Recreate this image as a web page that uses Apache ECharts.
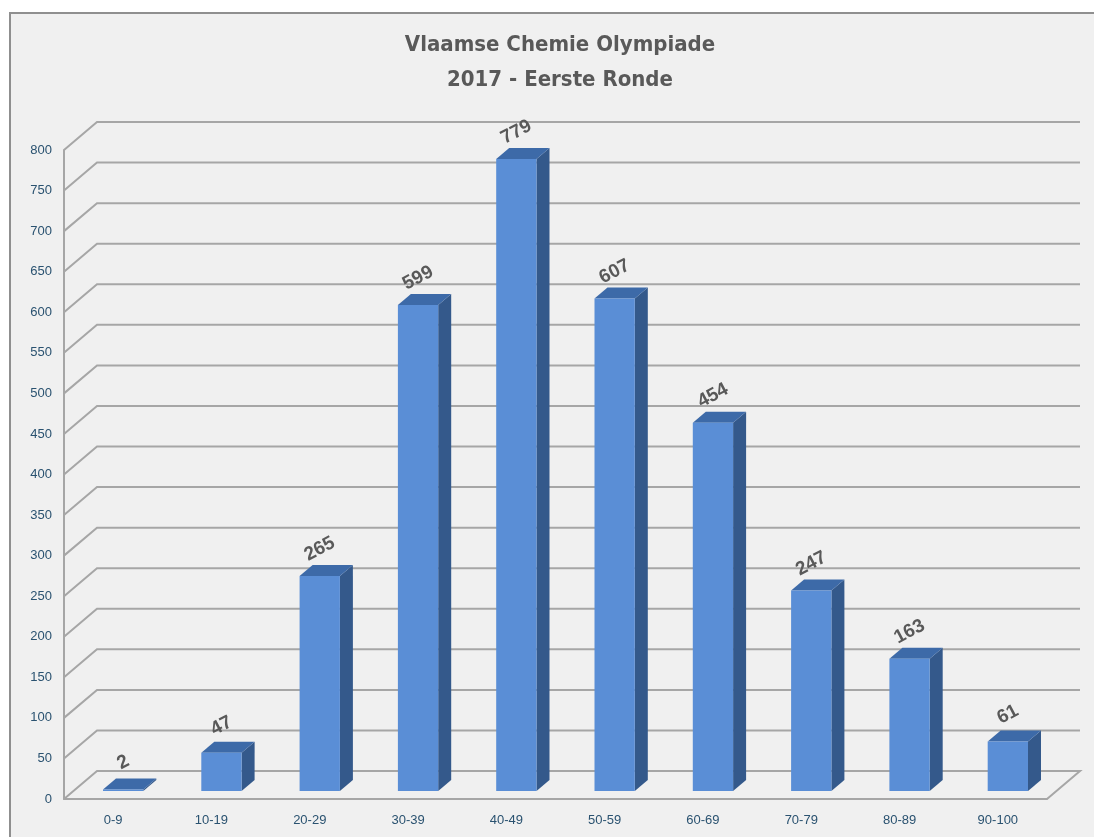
<!DOCTYPE html>
<html>
<head>
<meta charset="utf-8">
<script src="https://cdn.jsdelivr.net/npm/echarts@6/dist/echarts.min.js"></script>
<style>
  html, body { margin: 0; padding: 0; background: #ffffff; }
  #frame {
    position: absolute; left: 9px; top: 12px; width: 1200px; height: 900px;
    background: #f0f0f0; border-top: 2px solid #8f8f8f; border-left: 2px solid #8f8f8f;
  }
  #main { position: absolute; left: 0; top: 0; width: 1094px; height: 837px; }
</style>
</head>
<body>
<div id="frame"></div>
<div id="main"></div>
<script>
  // data
  var categories = ['0-9', '10-19', '20-29', '30-39', '40-49', '50-59', '60-69', '70-79', '80-89', '90-100'];
  var counts = [2, 47, 265, 599, 779, 607, 454, 247, 163, 61];
  var yTicks = [0, 50, 100, 150, 200, 250, 300, 350, 400, 450, 500, 550, 600, 650, 700, 750, 800];

  // 3d look
  var WALL_DX = 33, WALL_DY = -28;   // back wall offset
  var BAR_DX = 10, BAR_DY = -8;      // bar front face offset from floor front edge
  var SIDE_DX = 13, SIDE_DY = -11;   // bar depth
  var lineColor = '#a6a6a6';
  var textColor = '#2a5270';

  var dom = document.getElementById('main');
  var myChart = echarts.init(dom, null, { renderer: 'canvas' });

  //back wall grid + floor
  function renderWall(params, api) {
    var cs = params.coordSys;
    var v = api.value(1);
    var y = api.coord([0, v])[1];
    var x0 = cs.x;
    var x1 = cs.x + cs.width;
    var pts = [[x0, y], [x0 + WALL_DX, y + WALL_DY], [x1 + WALL_DX, y + WALL_DY]];
    if (v === 0) {
      pts.push([x1, y]);
    }
    return {
      type: 'polyline',
      shape: { points: pts },
      style: { stroke: lineColor, lineWidth: 2, fill: null }
    };
  }

  //3d bars
  function renderBar(params, api) {
    var i = api.value(0);
    var v = api.value(1);
    var base = api.coord([i, 0]);
    var top = api.coord([i, v]);
    var w = api.size([1, 0])[0] * 0.41;
    var xl = base[0] - w / 2 + BAR_DX;
    var xr = xl + w;
    var yb = base[1] + BAR_DY;
    var yt = top[1] + BAR_DY;
    return {
      type: 'group',
      children: [
        {
          type: 'polygon',
          shape: { points: [[xr, yb], [xr + SIDE_DX, yb + SIDE_DY], [xr + SIDE_DX, yt + SIDE_DY], [xr, yt]] },
          style: { fill: '#34598b' }
        },
        {
          type: 'polygon',
          shape: { points: [[xl, yt], [xr, yt], [xr + SIDE_DX, yt + SIDE_DY], [xl + SIDE_DX, yt + SIDE_DY]] },
          style: { fill: '#3d6aa8' }
        },
        {
          type: 'rect',
          shape: { x: xl, y: yt, width: w, height: Math.max(yb - yt, 0) },
          style: { fill: '#5a8ed6' }
        },
        {
          type: 'text',
          x: (xl + xr) / 2,
          y: yt - 27,
          rotation: 28 * Math.PI / 180,
          style: {
            text: String(v),
            x: 0, y: 0,
            fill: '#595959',
            font: 'bold 19px "Liberation Sans", Arial, sans-serif',
            textAlign: 'center', textVerticalAlign: 'middle',
            align: 'center', verticalAlign: 'middle'
          }
        }
      ]
    };
  }

  var option = {
    backgroundColor: 'transparent',
    animation: false,
    title: {
      text: 'Vlaamse Chemie Olympiade\n2017 - Eerste Ronde',
      left: 555,
      top: 23,
      textAlign: 'center',
      textStyle: {
        fontFamily: '"Liberation Sans Narrow", "DejaVu Sans Condensed", sans-serif',
        fontWeight: 'bold',
        fontSize: 22,
        lineHeight: 35,
        color: '#595959'
      }
    },
    grid: {
      left: 64,
      top: 150,
      right: 47,
      bottom: 38,
      containLabel: false
    },
    xAxis: {
      type: 'category',
      data: categories,
      axisLine: { lineStyle: { color: lineColor, width: 2 } },
      axisTick: { show: false },
      axisLabel: {
        margin: 15,
        fontSize: 13,
        fontFamily: '"Liberation Sans", sans-serif',
        color: textColor
      },
      splitLine: { show: false }
    },
    yAxis: {
      type: 'value',
      min: 0,
      max: 800,
      interval: 50,
      axisLine: { show: true, lineStyle: { color: lineColor, width: 2 } },
      axisTick: { show: false },
      axisLabel: {
        margin: 12,
        fontSize: 13,
        fontFamily: '"Liberation Sans", sans-serif',
        color: textColor
      },
      splitLine: { show: false }
    },
    series: [
      {
        name: 'wall',
        type: 'custom',
        clip: false,
        silent: true,
        renderItem: renderWall,
        data: yTicks.map(function (t) { return [0, t]; }),
        z: 1
      },
      {
        name: 'deelnemers',
        type: 'custom',
        clip: false,
        renderItem: renderBar,
        data: counts.map(function (c, i) { return [i, c]; }),
        z: 5
      }
    ]
  };
  if (option && typeof option === 'object') {
    myChart.setOption(option);
  }
</script>
</body>
</html>
